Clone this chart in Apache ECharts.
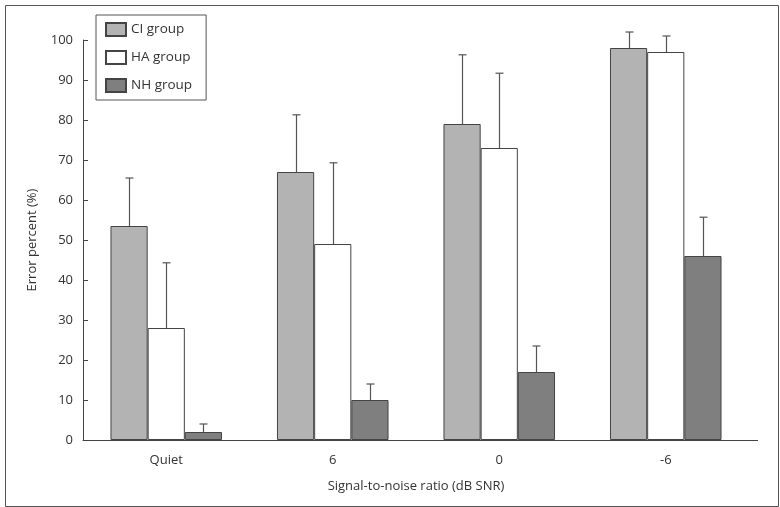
<!DOCTYPE html>
<html><head><meta charset="utf-8">
<script src="https://cdn.jsdelivr.net/npm/echarts@6/dist/echarts.min.js"></script>
<style>html,body{margin:0;padding:0;background:#fff}#c{width:780px;height:507px}</style>
</head><body><div id="c"></div>
<script>
const categories = ['Quiet', '6', '0', '-6'];
const seriesNames = ['CI group', 'HA group', 'NH group'];
const ciMean = [53.5, 67, 79, 98];
const haMean = [28, 49, 73, 97];
const nhMean = [2, 10, 17, 46];
const ciErrTop = [65.5, 81.3, 96.3, 102];
const haErrTop = [44.3, 69.3, 91.7, 101];
const nhErrTop = [4, 14, 23.5, 55.7];
const yTicks = [0, 10, 20, 30, 40, 50, 60, 70, 80, 90, 100];

const colors = ['#b3b3b3', '#ffffff', '#7f7f7f'];
const means = [ciMean, haMean, nhMean];
const tops = [ciErrTop, haErrTop, nhErrTop];
const gapFrac = 0.33;
const font = '"Open Sans", Lato, sans-serif';

const chart = echarts.init(document.getElementById('c'));
const series = [];
seriesNames.forEach((n, i) => {
  series.push({
    name: n, type: 'bar', data: means[i], barGap: 0, barCategoryGap: (gapFrac*100)+'%',
    itemStyle: { color: colors[i], borderColor: '#444', borderWidth: 1 },
    z: 2
  });
});
seriesNames.forEach((n, i) => {
  series.push({
    type: 'custom', z: 3, silent: true,
    data: categories.map((c, k) => [k, means[i][k], tops[i][k]]),
    renderItem: function (params, api) {
      const k = api.value(0);
      const catW = api.size([1, 0])[0];
      const bw = catW * (1 - gapFrac) / 3;
      const off = (i - 1) * bw;
      const p0 = api.coord([k, api.value(1)]);
      const p1 = api.coord([k, api.value(2)]);
      const x = Math.round(p0[0] + off) + 0.5;
      const style = { stroke: '#555', lineWidth: 1.2 };
      return { type: 'group', children: [
        { type: 'line', shape: { x1: x, y1: p0[1], x2: x, y2: p1[1] }, style },
        { type: 'line', shape: { x1: x - 4, y1: p1[1], x2: x + 4, y2: p1[1] }, style }
      ]};
    }
  });
});

chart.setOption({
  animation: false,
  textStyle: { fontFamily: font },
  grid: { left: 83, right: 31, top: 40, bottom: 67, containLabel: false },
  legend: {
    orient: 'vertical', left: 96, top: 15, data: seriesNames, icon: 'rect',
    itemWidth: 20, itemHeight: 13, itemGap: 13,
    padding: [7, 14, 7, 9], borderColor: '#555', borderWidth: 1,
    backgroundColor: '#fff',
    textStyle: { fontSize: 13.5, color: '#333', fontFamily: font }
  },
  xAxis: {
    type: 'category', data: categories,
    name: 'Signal-to-noise ratio (dB SNR)', nameLocation: 'middle', nameGap: 40,
    nameTextStyle: { fontSize: 13, color: '#333', fontFamily: font },
    axisLine: { lineStyle: { color: '#444' } },
    axisTick: { show: false },
    axisLabel: { fontSize: 13, color: '#333', margin: 14, fontFamily: font }
  },
  yAxis: {
    type: 'value', min: 0, max: 100, interval: 10,
    name: 'Error percent (%)', nameLocation: 'middle', nameGap: 44,
    nameTextStyle: { fontSize: 13, color: '#333', fontFamily: font },
    axisLine: { show: true, lineStyle: { color: '#444' } },
    axisTick: { show: true, inside: true, length: 5, lineStyle: { color: '#444' } },
    axisLabel: { fontSize: 13, color: '#333', margin: 10, fontFamily: font,
      formatter: v => yTicks.includes(v) ? String(v) : '' },
    splitLine: { show: false }
  },
  graphic: [{
    type: 'rect', left: 3, top: 3, shape: { width: 773, height: 501 },
    style: { fill: 'none', stroke: '#555', lineWidth: 1 }, z: -1, silent: true
  }, {
    type: 'line', shape: { x1: 749, y1: 440.5, x2: 758, y2: 440.5 },
    style: { stroke: '#444', lineWidth: 1 }, silent: true
  }],
  series
});
</script></body></html>
